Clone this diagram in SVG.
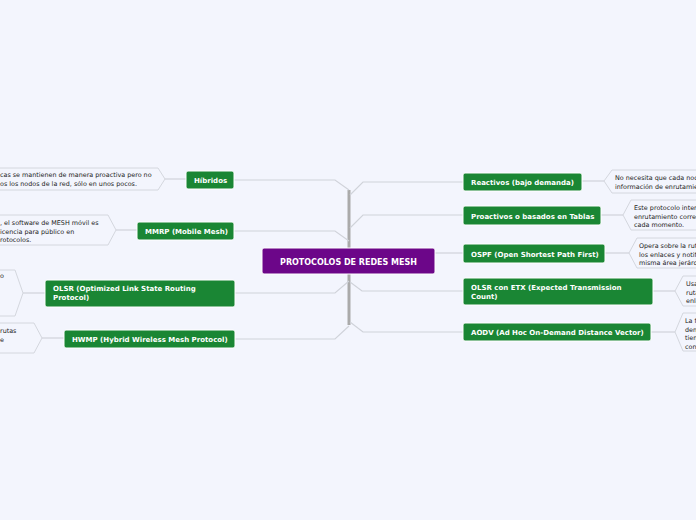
<svg xmlns="http://www.w3.org/2000/svg" width="696" height="520" viewBox="0 0 696 520">
<style>
.bg{fill:#f3f5fd}
.n rect{fill:#1a8634;stroke:#ffffff;stroke-width:1}
.n text{fill:#fff;font-family:"DejaVu Sans",sans-serif;font-weight:bold;font-size:7px}
.c polygon{fill:#f3f5fd;stroke:#d4d7de;stroke-width:1}
.c text{fill:#222;font-family:"DejaVu Sans",sans-serif;font-size:6.4px}
.l{fill:none;stroke:#d0d3da;stroke-width:1.2}
.t{stroke:#aaaaaa;stroke-width:3}
</style>
<rect class="bg" width="696" height="520"/>
<g id="connectors">
<line class="t" x1="349" y1="190" x2="349" y2="325"/>
<polyline class="l" points="234,180 335,180 349,190"/>
<polyline class="l" points="234,231 335,231 349,241"/>
<polyline class="l" points="235,293 335,293 349,281"/>
<polyline class="l" points="235,339 335,339 349,326"/>
<polyline class="l" points="463,182 363,182 350,195"/>
<polyline class="l" points="463,215 363,215 350,228"/>
<polyline class="l" points="435,253 463,253"/>
<polyline class="l" points="463,291 362,291 350,282"/>
<polyline class="l" points="463,332 363,332 350,322"/>
<line class="l" x1="165" y1="179" x2="186" y2="179"/>
<line class="l" x1="116" y1="230" x2="137" y2="230"/>
<line class="l" x1="23" y1="293" x2="45" y2="293"/>
<line class="l" x1="42" y1="338" x2="64" y2="338"/>
<line class="l" x1="582" y1="181" x2="604" y2="181"/>
<line class="l" x1="601" y1="215" x2="623" y2="215"/>
<line class="l" x1="605" y1="253" x2="629" y2="253"/>
<line class="l" x1="653" y1="291" x2="675" y2="291"/>
<line class="l" x1="651" y1="332" x2="675" y2="332"/>
</g>
<g id="center">
<rect x="262" y="248" width="173" height="26" rx="2" fill="#6c0689" stroke="#fff"/>
<text x="348.5" y="264.5" text-anchor="middle" fill="#fff" font-family="DejaVu Sans,sans-serif" font-weight="bold" font-size="8">PROTOCOLOS DE REDES MESH</text>
</g>
<g id="hibridos" class="n"><rect x="186" y="171" width="48" height="18" rx="2"/><text x="194" y="182.5">Híbridos</text></g>
<g id="mmrp" class="n"><rect x="137" y="222" width="97" height="18" rx="2"/><text x="145" y="233.5">MMRP (Mobile Mesh)</text></g>
<g id="olsr" class="n"><rect x="45" y="280" width="190" height="27" rx="2"/><text x="53" y="291">OLSR (Optimized Link State Routing</text><text x="53" y="300">Protocol)</text></g>
<g id="hwmp" class="n"><rect x="64" y="330" width="171" height="18" rx="2"/><text x="72" y="341.5">HWMP (Hybrid Wireless Mesh Protocol)</text></g>
<g id="reactivos" class="n"><rect x="463" y="173" width="119" height="18" rx="2"/><text x="471" y="184.5">Reactivos (bajo demanda)</text></g>
<g id="proactivos" class="n"><rect x="463" y="206" width="138" height="19" rx="2"/><text x="471" y="218.5">Proactivos o basados en Tablas</text></g>
<g id="ospf" class="n"><rect x="463" y="244" width="142" height="19" rx="2"/><text x="471" y="256.5">OSPF (Open Shortest Path First)</text></g>
<g id="olsretx" class="n"><rect x="463" y="278" width="190" height="27" rx="2"/><text x="471" y="290">OLSR con ETX (Expected Transmission</text><text x="471" y="299">Count)</text></g>
<g id="aodv" class="n"><rect x="463" y="323" width="188" height="18" rx="2"/><text x="471" y="335">AODV (Ad Hoc On-Demand Distance Vector)</text></g>
<g id="c-hibridos" class="c"><polygon points="-5,168 158,168 165,179 158,190 -5,190"/><text x="0" y="177">cas se mantienen de manera proactiva pero no</text><text x="0" y="186">os los nodos de la red, sólo en unos pocos.</text></g>
<g id="c-mmrp" class="c"><polygon points="-5,215 108,215 116,230 108,245 -5,245"/><text x="0" y="225">, el software de MESH móvil es</text><text x="0" y="233.5">icencia para público en</text><text x="0" y="242">rotocolos.</text></g>
<g id="c-olsr" class="c"><polygon points="-5,270 15,270 23,293 15,316 -5,316"/><text x="0" y="278">o</text></g>
<g id="c-hwmp" class="c"><polygon points="-5,323 34,323 42,338 34,353 -5,353"/><text x="0" y="333">rutas</text><text x="0" y="341.5">e</text></g>
<g id="c-reactivos" class="c"><polygon points="700,170 612,170 604,181 612,193 700,193"/><text x="615" y="180">No necesita que cada nodo</text><text x="615" y="188.5">información de enrutamiento</text></g>
<g id="c-proactivos" class="c"><polygon points="700,200 631,200 623,215 631,230 700,230"/><text x="634" y="210">Este protocolo intenta</text><text x="634" y="218.5">enrutamiento correcto</text><text x="634" y="227">cada momento.</text></g>
<g id="c-ospf" class="c"><polygon points="700,238 637,238 629,253 637,268 700,268"/><text x="639" y="248">Opera sobre la ruta</text><text x="639" y="256.5">los enlaces y notifica</text><text x="639" y="265">misma área jerárquica</text></g>
<g id="c-olsretx" class="c"><polygon points="700,276 683,276 675,291 683,306 700,306"/><text x="686" y="286">Usa</text><text x="686" y="294.5">rutas</text><text x="686" y="303">enlaces</text></g>
<g id="c-aodv" class="c"><polygon points="700,313 683,313 675,332 683,351 700,351"/><text x="685" y="323">La fuente</text><text x="685" y="331.5">demanda</text><text x="685" y="340">tiene</text><text x="685" y="348.5">con</text></g>
</svg>
